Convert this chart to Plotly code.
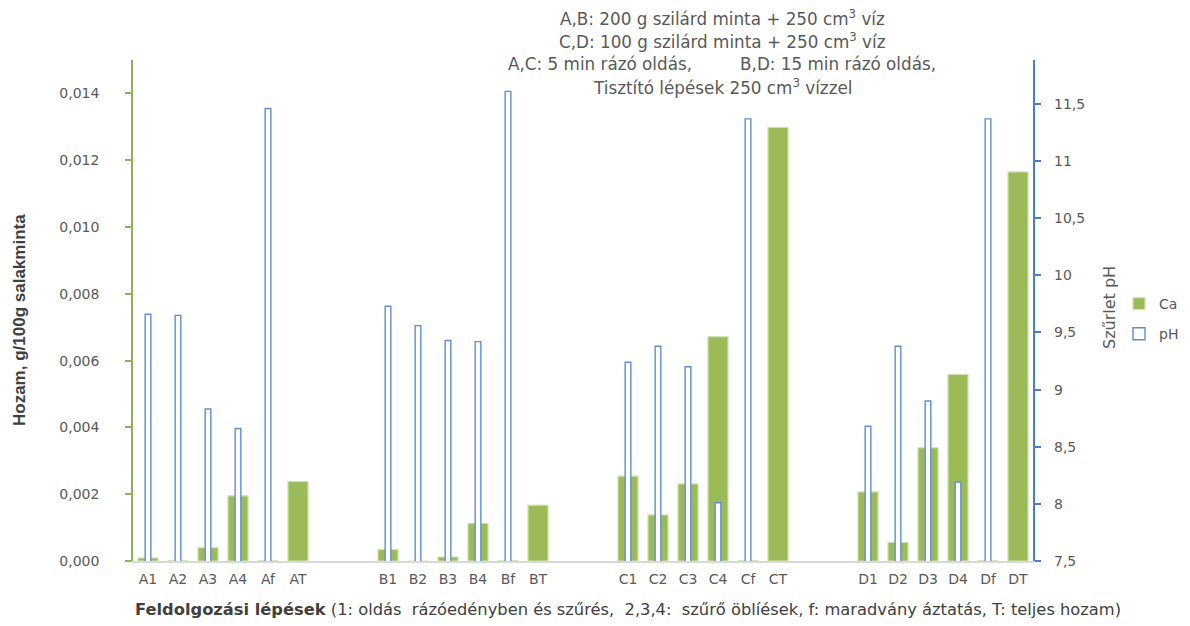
import plotly.graph_objects as go

# ---- data ----
categories = ["A1", "A2", "A3", "A4", "Af", "AT",
              "B1", "B2", "B3", "B4", "Bf", "BT",
              "C1", "C2", "C3", "C4", "Cf", "CT",
              "D1", "D2", "D3", "D4", "Df", "DT"]
ca_values = [0.00009, 0.00001, 0.00040, 0.00195, 0.00001, 0.00238,
             0.00035, 0.0, 0.00012, 0.00113, 0.00001, 0.00167,
             0.00254, 0.00138, 0.00231, 0.00672, 0.00001, 0.01298,
             0.00207, 0.00056, 0.00339, 0.00559, 0.00001, 0.01165]
ph_values = [9.66, 9.65, 8.83, 8.66, 11.46, None,
             9.73, 9.56, 9.43, 9.42, 11.61, None,
             9.24, 9.38, 9.20, 8.01, 11.37, None,
             8.68, 9.38, 8.90, 8.19, 11.37, None]
left_ticks = [0.000, 0.002, 0.004, 0.006, 0.008, 0.010, 0.012, 0.014]
right_ticks = [7.5, 8, 8.5, 9, 9.5, 10, 10.5, 11, 11.5]

title_lines = [
    "A,B: 200 g szilárd minta + 250 cm<sup>3</sup> víz",
    "C,D: 100 g szilárd minta + 250 cm<sup>3</sup> víz",
    "A,C: 5 min rázó oldás," + "\u00a0" * 9 + "B,D: 15 min rázó oldás,",
    "Tisztító lépések 250 cm<sup>3</sup> vízzel",
]

# ---- layout helpers (page body has an 8px margin) ----
OFF = 8
W, H = 1190 - OFF, 626 - OFF
plot_left, plot_right, plot_top, plot_bottom = 133 - OFF, 1033 - OFF, 60 - OFF, 561 - OFF
L, R, T, B = plot_left, W - plot_right, plot_top, H - plot_bottom
group_size, group_gap = 6, 2
xpos = [(i // group_size) * (group_size + group_gap) + (i % group_size) for i in range(len(categories))]
n_slots = 4 * group_size + 3 * group_gap
plot_h = plot_bottom - plot_top
plot_w = plot_right - plot_left


def py(pix):
    return (plot_bottom - (pix - OFF)) / plot_h


def px(pix):
    return ((pix - OFF) - plot_left) / plot_w


def fmt_tick(v):
    return ("%g" % v).replace(".", ",")


GRAY = "#595959"
FONT = "DejaVu Sans"

fig = go.Figure()
fig.add_trace(go.Bar(
    x=xpos, y=ca_values, name="Ca", yaxis="y", legendgroup="ca",
    width=0.67, offset=-0.335,
    marker=dict(color="#9BBB59", line=dict(color="#D3E3B5", width=1.2)),
))
fig.add_trace(go.Bar(
    x=xpos, y=ph_values, name="pH", yaxis="y2", legendgroup="ph",
    width=0.19, offset=-0.095,
    marker=dict(color="white", line=dict(color="#5E8ED2", width=1.4)),
))

annotations = []
for k, line in enumerate(title_lines):
    annotations.append(dict(
        text=line, xref="paper", yref="paper", x=px(722), y=py(18 + 23 * k),
        xanchor="center", yanchor="middle", showarrow=False,
        font=dict(family=FONT, size=16.8, color=GRAY)))

# right-axis tick labels, placed at their pH values on the y2 scale
for v in right_ticks:
    annotations.append(dict(
        text=fmt_tick(v), xref="paper", yref="y2", x=px(1052), y=v,
        xanchor="left", yanchor="middle", showarrow=False,
        font=dict(family=FONT, size=14, color=GRAY)))

annotations.append(dict(
    text="<b>Hozam, g/100g salakminta</b>", xref="paper", yref="paper",
    x=px(19), y=py(320), xanchor="center", yanchor="middle", textangle=-90,
    showarrow=False,
    font=dict(family="Liberation Sans Narrow, Liberation Sans, sans-serif", size=17, color="#404040"),
))
annotations.append(dict(
    text="<b>Feldolgozási lépések</b> (1: oldás\u00a0 rázóedényben és szűrés,\u00a0 2,3,4:\u00a0 szűrő öblíések, f: maradvány áztatás, T: teljes hozam)",
    xref="paper", yref="paper", x=px(628), y=py(609), xanchor="center", yanchor="middle",
    showarrow=False, font=dict(family=FONT, size=16.3, color="#404040"),
))
annotations.append(dict(
    text="Szűrlet pH", xref="paper", yref="paper", x=px(1109), y=py(308),
    xanchor="center", yanchor="middle", textangle=-90, showarrow=False,
    font=dict(family=FONT, size=16, color=GRAY),
))

fig.update_layout(
    width=W, height=H,
    margin=dict(l=L, r=R, t=T, b=B, pad=0, autoexpand=False),
    paper_bgcolor="white", plot_bgcolor="white",
    barmode="overlay",
    font=dict(family=FONT, size=14, color=GRAY),
    showlegend=True,
    legend=dict(x=px(1119), y=py(319), xanchor="left", yanchor="middle",
                font=dict(family=FONT, size=14, color=GRAY),
                tracegroupgap=9, itemwidth=30, bgcolor="rgba(0,0,0,0)"),
    xaxis=dict(
        range=[-0.5, n_slots - 0.5], tickmode="array", tickvals=xpos, ticktext=categories,
        showline=True, linecolor="#D9D9D9", linewidth=1.5, ticks="", showgrid=False,
        zeroline=False, tickfont=dict(family=FONT, size=14, color=GRAY), ticklabelstandoff=4,
        automargin=False,
    ),
    yaxis=dict(
        range=[0, 0.015], tickmode="array", tickvals=left_ticks,
        ticktext=[("%.3f" % v).replace(".", ",") for v in left_ticks],
        showline=True, linecolor="#8DB255", linewidth=1.5, ticks="outside", ticklen=6,
        tickcolor="#8DB255", tickwidth=1.5, showgrid=False, zeroline=False,
        tickfont=dict(family=FONT, size=14, color=GRAY), ticklabelstandoff=23,
        automargin=False,
    ),
    yaxis2=dict(
        range=[7.5, 11.885], overlaying="y", side="right", tickmode="array",
        tickvals=right_ticks, showticklabels=False,
        showline=True, linecolor="#4A7EC8", linewidth=1.5, ticks="outside", ticklen=6,
        tickcolor="#4A7EC8", tickwidth=1.5, showgrid=False, zeroline=False,
        automargin=False,
    ),
    annotations=annotations,
)

fig.write_html("out.html")
